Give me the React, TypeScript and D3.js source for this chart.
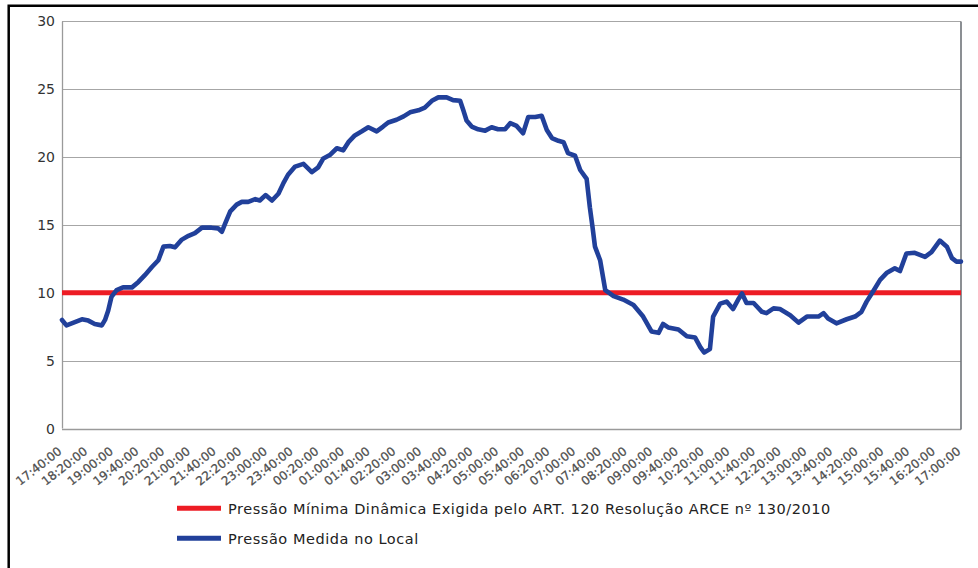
import React, { useEffect, useRef } from 'react';
import * as d3 from 'd3';

// horários (início 17:40, fim 17:00 do dia seguinte)
const times = [
  '17:40', '17:47', '17:58', '18:11', '18:21', '18:31', '18:42', '18:47', '18:52', '18:57',
  '19:05', '19:15', '19:29', '19:39', '19:49', '20:00', '20:10', '20:18', '20:28', '20:36',
  '20:46', '20:57', '21:07', '21:18', '21:33', '21:43', '21:49', '21:54', '22:02', '22:12',
  '22:20', '22:30', '22:41', '22:48', '22:57', '23:07', '23:17', '23:25', '23:32', '23:43',
  '23:56', '00:09', '00:19', '00:27', '00:37', '00:48', '00:58', '01:06', '01:16', '01:27',
  '01:37', '01:50', '02:00', '02:08', '02:21', '02:32', '02:42', '02:55', '03:05', '03:16',
  '03:26', '03:39', '03:49', '04:00', '04:05', '04:10', '04:18', '04:28', '04:39', '04:49',
  '04:59', '05:10', '05:18', '05:28', '05:38', '05:46', '05:57', '06:07', '06:15', '06:23',
  '06:33', '06:41', '06:48', '06:59', '07:07', '07:17', '07:22', '07:26', '07:30', '07:38',
  '07:46', '07:59', '08:14', '08:30', '08:45', '08:58', '09:09', '09:16', '09:24', '09:40',
  '09:53', '10:06', '10:14', '10:20', '10:29', '10:34', '10:45', '10:55', '11:05', '11:13',
  '11:19', '11:26', '11:37', '11:50', '11:57', '12:08', '12:18', '12:34', '12:47', '13:00',
  '13:18', '13:26', '13:33', '13:46', '14:02', '14:15', '14:25', '14:33', '14:43', '14:54',
  '15:04', '15:17', '15:25', '15:35', '15:48', '16:04', '16:14', '16:27', '16:38', '16:46',
  '16:53', '17:00',
];

// pressão medida no local (mca)
const pressure = [
  8.0, 7.6, 7.8, 8.05, 7.95, 7.7, 7.6, 8.0, 8.7, 9.7,
  10.2, 10.4, 10.4, 10.8, 11.3, 11.9, 12.4, 13.4, 13.45, 13.35,
  13.9, 14.2, 14.4, 14.8, 14.8, 14.75, 14.5, 15.1, 16.0, 16.5,
  16.7, 16.7, 16.9, 16.8, 17.2, 16.8, 17.3, 18.1, 18.7, 19.3,
  19.5, 18.9, 19.25, 19.9, 20.15, 20.65, 20.5, 21.1, 21.6, 21.9,
  22.2, 21.9, 22.25, 22.55, 22.75, 23.0, 23.3, 23.45, 23.65, 24.15,
  24.4, 24.4, 24.2, 24.15, 23.45, 22.7, 22.25, 22.05, 21.95, 22.2,
  22.05, 22.05, 22.5, 22.3, 21.75, 22.95, 22.95, 23.05, 22.0, 21.4,
  21.2, 21.1, 20.3, 20.1, 19.05, 18.4, 16.3, 14.9, 13.4, 12.4,
  10.2, 9.75, 9.5, 9.1, 8.25, 7.15, 7.05, 7.7, 7.45, 7.3,
  6.8, 6.7, 6.0, 5.6, 5.85, 8.25, 9.2, 9.35, 8.8, 9.5,
  9.95, 9.25, 9.25, 8.6, 8.5, 8.85, 8.8, 8.35, 7.8, 8.25,
  8.25, 8.5, 8.1, 7.75, 8.05, 8.25, 8.6, 9.35, 10.1, 10.95,
  11.45, 11.8, 11.6, 12.9, 12.95, 12.65, 13.0, 13.85, 13.4, 12.55,
  12.3, 12.3,
];

const minimumPressure = 10;

const tickLabels = [
  '17:40:00', '18:20:00', '19:00:00', '19:40:00', '20:20:00', '21:00:00', '21:40:00', '22:20:00',
  '23:00:00', '23:40:00', '00:20:00', '01:00:00', '01:40:00', '02:20:00', '03:00:00', '03:40:00',
  '04:20:00', '05:00:00', '05:40:00', '06:20:00', '07:00:00', '07:40:00', '08:20:00', '09:00:00',
  '09:40:00', '10:20:00', '11:00:00', '11:40:00', '12:20:00', '13:00:00', '13:40:00', '14:20:00',
  '15:00:00', '15:40:00', '16:20:00', '17:00:00',
];

const yTicks = [0, 5, 10, 15, 20, 25, 30];

const legendLabels = [
  'Pressão Mínima Dinâmica Exigida pelo ART. 120 Resolução ARCE nº 130/2010',
  'Pressão Medida no Local',
];

const RED = '#ed1c24';
const BLUE = '#21409a';

// minutos desde 17:40
const toMinutes = (s: string) => {
  const [h, m] = s.split(':').map(Number);
  let t = h * 60 + m - (17 * 60 + 40);
  if (t < 0) t += 24 * 60;
  return t;
};

const App = () => {
  const svgRef = useRef<SVGSVGElement | null>(null);

  useEffect(() => {
    const width = 978;
    const height = 568;
    const svg = d3.select(svgRef.current);
    svg.selectAll('*').remove();
    svg.attr('width', width).attr('height', height);

    const font = '"DejaVu Sans", Verdana, sans-serif';

    svg.append('rect').attr('width', width).attr('height', height).attr('fill', '#fff');

    // moldura externa
    svg.append('path')
      .attr('d', `M8.7,${height} V5.7 H${width}`)
      .attr('fill', 'none')
      .attr('stroke', '#000')
      .attr('stroke-width', 2.5);

    const x = d3.scaleLinear().domain([0, toMinutes('17:00')]).range([62, 961]);
    const y = d3.scaleLinear().domain([0, 30]).range([428.5, 21.4]);

    // grade horizontal
    svg.append('g')
      .selectAll('line')
      .data(yTicks.filter(d => d > 0))
      .enter()
      .append('line')
      .attr('x1', x.range()[0])
      .attr('x2', x.range()[1])
      .attr('y1', d => Math.round(y(d)) + 0.5)
      .attr('y2', d => Math.round(y(d)) + 0.5)
      .attr('stroke', '#a6a6a6')
      .attr('stroke-width', 1.2);

    // eixos
    svg.append('line')
      .attr('x1', 62.5).attr('x2', 62.5)
      .attr('y1', y(30)).attr('y2', y(0))
      .attr('stroke', '#9a9a9a').attr('stroke-width', 1.3);
    svg.append('line')
      .attr('x1', 62).attr('x2', 961)
      .attr('y1', Math.round(y(0)) + 0.5).attr('y2', Math.round(y(0)) + 0.5)
      .attr('stroke', '#9a9a9a').attr('stroke-width', 1.3);
    svg.append('line')
      .attr('x1', 961).attr('x2', 961)
      .attr('y1', y(30)).attr('y2', y(0) + 1)
      .attr('stroke', '#6f7378').attr('stroke-width', 1.6);

    // rótulos do eixo y
    svg.append('g')
      .selectAll('text')
      .data(yTicks)
      .enter()
      .append('text')
      .attr('x', 55)
      .attr('y', d => y(d))
      .attr('dy', '0.36em')
      .attr('text-anchor', 'end')
      .attr('font-family', font)
      .attr('font-size', 14)
      .attr('fill', '#333')
      .text(d => d);

    // rótulos do eixo x
    svg.append('g')
      .selectAll('text')
      .data(tickLabels)
      .enter()
      .append('text')
      .attr('transform', d => `translate(${x(toMinutes(d.slice(0, 5))) - 2},${449.5}) rotate(-38)`)
      .attr('dy', '0.35em')
      .attr('text-anchor', 'end')
      .attr('font-family', font)
      .attr('font-size', 12)
      .attr('fill', '#4d4d4d')
      .attr('stroke', '#4d4d4d')
      .attr('stroke-width', 0.25)
      .text(d => d);

    // linha de pressão mínima
    svg.append('line')
      .attr('x1', x.range()[0]).attr('x2', x.range()[1])
      .attr('y1', y(minimumPressure)).attr('y2', y(minimumPressure))
      .attr('stroke', RED)
      .attr('stroke-width', 5);

    // pressão medida
    const points = times.map((t, i) => [toMinutes(t), pressure[i]] as [number, number]);
    const line = d3.line<[number, number]>()
      .x(d => x(d[0]))
      .y(d => y(d[1]));
    svg.append('path')
      .datum(points)
      .attr('d', line)
      .attr('fill', 'none')
      .attr('stroke', BLUE)
      .attr('stroke-width', 4.6)
      .attr('stroke-linejoin', 'round')
      .attr('stroke-linecap', 'round');

    // legenda
    const legend = svg.append('g');
    [RED, BLUE].forEach((c, i) => {
      const ly = 508.3 + i * 30;
      legend.append('line')
        .attr('x1', 177).attr('x2', 221)
        .attr('y1', ly).attr('y2', ly)
        .attr('stroke', c).attr('stroke-width', 5);
      legend.append('text')
        .attr('x', 228)
        .attr('y', ly)
        .attr('dy', '0.36em')
        .attr('font-family', font)
        .attr('font-size', 14.5)
        .attr('letter-spacing', 0.55)
        .attr('fill', '#222')
        .text(legendLabels[i]);
    });
  }, []);

  return (
    <div style={{ position: 'absolute', left: 0, top: 0 }}>
      <svg ref={svgRef} style={{ display: 'block' }} />
    </div>
  );
};

export default App;
